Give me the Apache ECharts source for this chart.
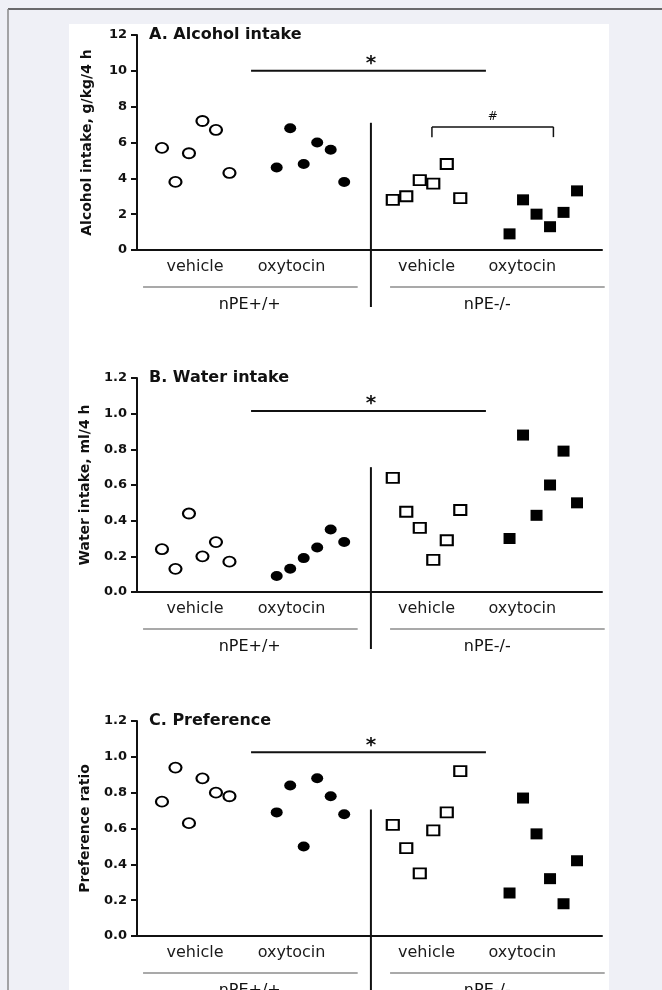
<!DOCTYPE html>
<html>
<head>
<meta charset="utf-8">
<script src="https://cdn.jsdelivr.net/npm/echarts@6/dist/echarts.min.js"></script>
<style>
html, body { margin: 0; padding: 0; background: #eff0f6; }
#main { width: 662px; height: 990px; }
</style>
</head>
<body>
<div id="main"></div>
<script>
// panels
var panelTitles = ['A. Alcohol intake', 'B. Water intake', 'C. Preference'];
var yNames = ['Alcohol intake, g/kg/4 h', 'Water intake, ml/4 h', 'Preference ratio'];
var yMax = [12, 1.2, 1.2];
var yStep = [2, 0.2, 0.2];
var groupLabels = ['vehicle', 'oxytocin', 'vehicle', 'oxytocin'];
var genotypes = ['nPE+/+', 'nPE-/-'];

// single animals, left to right inside each group
var alcoholVehWT = [5.7, 3.8, 5.4, 7.2, 6.7, 4.3];
var alcoholOxyWT = [4.6, 6.8, 4.8, 6.0, 5.6, 3.8];
var alcoholVehKO = [2.8, 3.0, 3.9, 3.7, 4.8, 2.9];
var alcoholOxyKO = [0.9, 2.8, 2.0, 1.3, 2.1, 3.3];

var waterVehWT = [0.24, 0.13, 0.44, 0.20, 0.28, 0.17];
var waterOxyWT = [0.09, 0.13, 0.19, 0.25, 0.35, 0.28];
var waterVehKO = [0.64, 0.45, 0.36, 0.18, 0.29, 0.46];
var waterOxyKO = [0.30, 0.88, 0.43, 0.60, 0.79, 0.50];

var prefVehWT = [0.75, 0.94, 0.63, 0.88, 0.80, 0.78];
var prefOxyWT = [0.69, 0.84, 0.50, 0.88, 0.78, 0.68];
var prefVehKO = [0.62, 0.49, 0.35, 0.59, 0.69, 0.92];
var prefOxyKO = [0.24, 0.77, 0.57, 0.32, 0.18, 0.42];

var panelData = [
  [alcoholVehWT, alcoholOxyWT, alcoholVehKO, alcoholOxyKO],
  [waterVehWT, waterOxyWT, waterVehKO, waterOxyKO],
  [prefVehWT, prefOxyWT, prefVehKO, prefOxyKO]
];

// annotation heights (y units)
var sigLevel = [10, 1.015, 1.025];   // "*" bar
var dividerTop = [7.1, 0.70, 0.706]; // genotype divider
var hashBracket = [6.87, 6.3];      // "#" bracket in panel A (top, legs)

// x slots
var groupStart = [0, 8.5, 17.1, 25.75];
var labelSlots = [2.45, 9.6, 19.6, 26.7];
var genoSlots = [6.5, 24.1];
var genoLineSlots = [[-1.4, 14.5], [16.9, 32.8]];
var dividerSlot = 15.48;
var sigSlots = [6.6, 24.0];

var gridTops = [35, 378, 721];
var gridHeights = [215, 214, 215];

var symbols = ['circle', 'circle', 'rect', 'rect'];
var filled = [false, true, false, true];

var chart = echarts.init(document.getElementById('main'));

var grids = [], xAxes = [], yAxes = [], series = [];
for (var p = 0; p < 3; p++) {
  grids.push({ left: 137, right: 60, top: gridTops[p], height: gridHeights[p], containLabel: false, outerBoundsMode: 'none' });
  xAxes.push({
    gridIndex: p, type: 'value', min: -1.85, max: 32.6,
    axisLine: { show: true, onZero: false, lineStyle: { color: '#111', width: 2 } },
    axisTick: { show: false },
    splitLine: { show: false },
    axisLabel: {
      customValues: labelSlots,
      margin: 9,
      fontSize: 16,
      color: '#1a1a1a',
      formatter: function (v) {
        var best = 0;
        for (var i = 1; i < labelSlots.length; i++) {
          if (Math.abs(labelSlots[i] - v) < Math.abs(labelSlots[best] - v)) best = i;
        }
        return groupLabels[best];
      }
    }
  });
  yAxes.push({
    gridIndex: p, type: 'value', min: 0, max: yMax[p], interval: yStep[p],
    name: yNames[p], nameLocation: 'middle', nameGap: p === 0 ? 43 : 45,
    nameTextStyle: { fontWeight: 'bold', fontSize: 14, color: '#111' },
    axisLine: { show: true, onZero: false, lineStyle: { color: '#111', width: 2 } },
    axisTick: { show: true, inside: false, length: 6, lineStyle: { color: '#111', width: 2 } },
    splitLine: { show: false },
    axisLabel: {
      fontWeight: 'bold', fontSize: 13, color: '#111', margin: 10,
      formatter: p === 0 ? '{value}' : function (v) { return v.toFixed(1); }
    }
  });
  for (var g = 0; g < 4; g++) {
    var pts = panelData[p][g].map(function (v, i) { return [groupStart[g] + i, v]; });
    var isRect = symbols[g] === 'rect';
    series.push({
      type: 'scatter',
      name: groupLabels[g],
      xAxisIndex: p, yAxisIndex: p,
      symbol: symbols[g],
      symbolSize: filled[g] ? (isRect ? [12, 11] : [12, 10]) : [12, 10],
      data: pts,
      itemStyle: filled[g]
        ? { color: '#000', opacity: 1 }
        : { color: '#fff', borderColor: '#000', borderWidth: 2, opacity: 1 },
      emphasis: { disabled: true },
      z: 5
    });
  }
}

chart.setOption({
  animation: false,
  textStyle: { fontFamily: 'DejaVu Sans' },
  grid: grids,
  xAxis: xAxes,
  yAxis: yAxes,
  series: series
});

// annotations placed through the axes
function px(p, x, y) { return chart.convertToPixel({ gridIndex: p }, [x, y]); }
function line(a, b, color, w) {
  return { type: 'line', shape: { x1: a[0], y1: a[1], x2: b[0], y2: b[1] }, style: { stroke: color, lineWidth: w }, z: 10 };
}
function text(t, x, y, font, align) {
  return { type: 'text', x: x, y: y, style: { text: t, font: font, fill: '#111', align: align || 'center', verticalAlign: 'middle' }, z: 10 };
}

var gfx = [
  { type: 'rect', shape: { x: 69, y: 24, width: 540, height: 966 }, style: { fill: '#fff' }, z: -10 },
  { type: 'line', shape: { x1: 8, y1: 9, x2: 662, y2: 9 }, style: { stroke: '#3c3c3c', lineWidth: 1.5 }, z: -9 },
  { type: 'line', shape: { x1: 8, y1: 9, x2: 8, y2: 990 }, style: { stroke: '#8a8a8a', lineWidth: 1.5 }, z: -9 }
];

for (var p = 0; p < 3; p++) {
  var baseY = px(p, 0, 0)[1];
  var topY = px(p, 0, yMax[p])[1];
  gfx.push(text(panelTitles[p], 149, topY, 'bold 16px "DejaVu Sans"', 'left'));
  // genotype underline and names
  for (var k = 0; k < 2; k++) {
    var a = px(p, genoLineSlots[k][0], 0), b = px(p, genoLineSlots[k][1], 0);
    gfx.push(line([a[0], baseY + 37], [b[0], baseY + 37], '#8c8c8c', 1.5));
    gfx.push(text(genotypes[k], px(p, genoSlots[k], 0)[0], baseY + 55, '16px "DejaVu Sans"'));
  }
  // divider between genotypes
  var d = px(p, dividerSlot, dividerTop[p]);
  gfx.push(line(d, [d[0], baseY + 57], '#111', 2));
  // significance bar
  var s1 = px(p, sigSlots[0], sigLevel[p]), s2 = px(p, sigSlots[1], sigLevel[p]);
  gfx.push(line(s1, s2, '#111', 2));
  gfx.push(text('*', px(p, dividerSlot, 0)[0], s1[1] - 7, 'bold 20px "DejaVu Sans"'));
}

// "#" bracket, panel A
var h1 = px(0, 20, hashBracket[0]), h2 = px(0, 29, hashBracket[0]);
var h1b = px(0, 20, hashBracket[1]), h2b = px(0, 29, hashBracket[1]);
gfx.push(line(h1, h2, '#111', 1.5));
gfx.push(line(h1, h1b, '#111', 1.5));
gfx.push(line(h2, h2b, '#111', 1.5));
gfx.push(text('#', (h1[0] + h2[0]) / 2, h1[1] - 10, '12px "DejaVu Sans"'));

chart.setOption({ graphic: gfx });
</script>
</body>
</html>
